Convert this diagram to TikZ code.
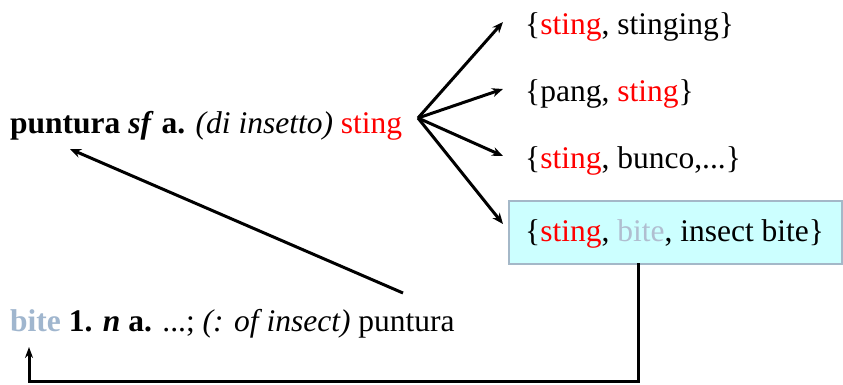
\documentclass[tikz,border=0pt]{standalone}
\usepackage{fontspec}
\setmainfont{Liberation Serif}
\usetikzlibrary{arrows.meta}
\definecolor{stingred}{RGB}{255,0,0}
\definecolor{bitegrey}{RGB}{160,182,206}
\definecolor{bitelight}{RGB}{176,190,208}
\definecolor{boxfill}{RGB}{204,255,255}
\definecolor{boxline}{RGB}{164,184,200}
\begin{document}
\begin{tikzpicture}[x=1pt,y=-1pt,
  every node/.style={inner sep=0pt,font=\fontsize{31.5}{36}\selectfont},
  entry/.style={anchor=base west},
  link/.style={line width=3pt,-{Stealth[length=11pt,width=9pt]}},
  loop/.style={line width=3pt,-{Stealth[length=11pt,width=8pt]}},
  synbox/.style={draw=boxline,line width=2pt,fill=boxfill,anchor=north west,
    minimum height=63pt,minimum width=333pt}]
\useasboundingbox (0,0) rectangle (843,384);
% Italian entry
\node[entry] (it) at (10,133) {\textbf{puntura} \textbf{\textit{sf}} \textbf{a.} \textit{(di insetto)} \textcolor{stingred}{sting}};
% English synsets
\node[entry] (s1) at (525,34) {\{\textcolor{stingred}{sting}, stinging\}};
\node[entry] (s2) at (525,101) {\{pang, \textcolor{stingred}{sting}\}};
\node[entry] (s3) at (525,168) {\{\textcolor{stingred}{sting}, bunco,...\}};
\node[synbox] (box) at (508,200) {};
\node[entry] (s4) at (525,241) {\{\textcolor{stingred}{sting}, \textcolor{bitelight}{bite}, insect bite\}};
% English entry
\node[entry] (en) at (10,331) {\textcolor{bitegrey}{\textbf{bite}} \textbf{1.} \textbf{\textit{n}} \textbf{a.} ...; \textit{(: of insect)} puntura};
% fan of translations
\coordinate (fan) at (418,118);
\coordinate (t1) at (503,22);
\coordinate (t2) at (503,89);
\coordinate (t3) at (503,156);
\coordinate (t4) at (503,224);
\foreach \t in {t1,t2,t3,t4} \draw[link] (fan) -- (\t);
% back-translation
\coordinate (bs) at (403,293);
\coordinate (bt) at (70,149);
\draw[link] (bs) -- (bt);
% loop back from the highlighted synset
\coordinate (ls) at (638,263);
\coordinate (lc) at (638,381);
\coordinate (le) at (29,347);
\draw[loop] (ls) -- (lc) -| (le);
\end{tikzpicture}
\end{document}
